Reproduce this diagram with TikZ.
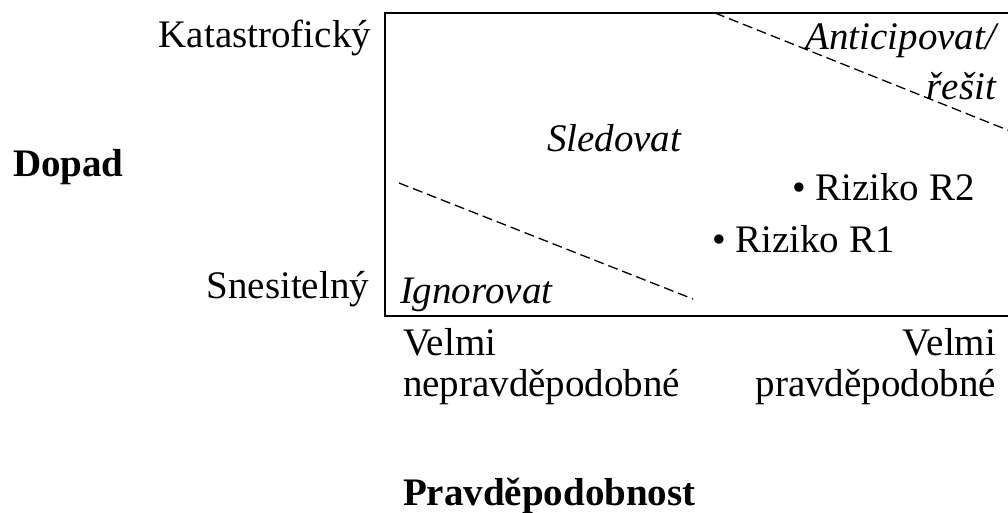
\documentclass[tikz,border=0pt]{standalone}
\usepackage{fontspec}
\setmainfont{Liberation Serif}
\begin{document}
\begin{tikzpicture}[x=1pt,y=-1pt,
  lbl/.style={inner sep=0pt,outer sep=0pt,font=\fontsize{39}{47}\selectfont},
  ilbl/.style={lbl,font=\fontsize{39}{47}\selectfont\itshape},
  blbl/.style={lbl,font=\fontsize{39}{47}\selectfont\bfseries},
  frame/.style={line width=2.8pt},
  divider/.style={line width=1.3pt,dash pattern=on 10pt off 5pt}]
\useasboundingbox (0,0) rectangle (1008,513);
\clip (0,0) rectangle (1008,513);
% frame
\coordinate (tr) at (1015,13);
\coordinate (tl) at (385,13);
\coordinate (bl) at (385,316);
\coordinate (br) at (1015,316);
\draw[frame] (tr) -- (tl) -- (bl) -- (br);
% dividers
\coordinate (d1a) at (715,13);
\coordinate (d1b) at (1010,131);
\coordinate (d2a) at (399,183);
\coordinate (d2b) at (693,299);
\draw[divider] (d1a) -- (d1b);
\draw[divider] (d2a) -- (d2b);
% axis labels
\node[lbl,anchor=base east] (kat) at (371,48) {Katastrofický};
\node[lbl,anchor=base east] (sne) at (369,298) {Snesitelný};
\node[blbl,anchor=base west] (dop) at (13,176) {Dopad};
\node[lbl,anchor=base west] (v1) at (403,355) {Velmi};
\node[lbl,anchor=base west] (n1) at (403,396) {nepravděpodobné};
\node[lbl,anchor=base east] (v2) at (996,355) {Velmi};
\node[lbl,anchor=base east] (n2) at (996,396) {pravděpodobné};
\node[blbl,anchor=base west] (prav) at (403,505) {Pravděpodobnost};
% region labels
\node[ilbl,anchor=base west] (ign) at (400,303) {Ignorovat};
\node[ilbl,anchor=base west] (sle) at (547,152) {Sledovat};
\node[ilbl,anchor=base east] (ant) at (996,50) {Anticipovat/};
\node[ilbl,anchor=base east] (res) at (996,100) {řešit};
% risks
\node[lbl,anchor=base west] (r2) at (792,200) {• Riziko R2};
\node[lbl,anchor=base west] (r1) at (712,252) {• Riziko R1};
\end{tikzpicture}
\end{document}
